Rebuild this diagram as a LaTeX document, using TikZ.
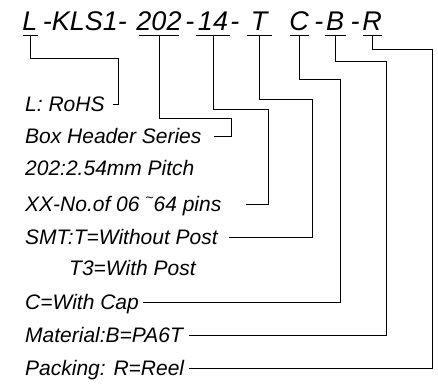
\documentclass[tikz,border=0pt]{standalone}
\usepackage{fontspec}
\setmainfont{Liberation Sans}
\usepackage{tikz}
\usetikzlibrary{positioning,calc}

\begin{document}
\begin{tikzpicture}[
      x=1pt,y=-1pt,
      font=\itshape,
      code/.style={anchor=south,inner xsep=0pt,inner ysep=4pt,text depth=0pt,font=\fontsize{27}{27}\selectfont\itshape},
      label/.style={anchor=west,inner sep=0pt,text height=15pt,text depth=0pt,font=\fontsize{21}{21}\selectfont\itshape},
      wire/.style={draw=black,line width=0.8pt}
    ]
    \useasboundingbox (0,0) rectangle (438,390);
    \node[code] (cL) at (30,35) {L};
    \node[code] (c202) at (159,35) {202};
    \node[code] (c14) at (213,35) {14};
    \node[code] (cT) at (259,35) {T};
    \node[code] (cC) at (299,35) {C};
    \node[code] (cB) at (335,35) {B};
    \node[code] (cR) at (372,35) {R};
    \node[code,anchor=south west] (sKLS) at ($(cL.south east)+(5,0)$) {-KLS1-};
    \node[code] (s1) at ($(c202.south east)!.5!(c14.south west)$) {-};
    \node[code,anchor=south west] (s2) at ($(c14.south east)+(2,0)$) {-};
    \node[code] (s3) at ($(cC.south east)!.5!(cB.south west)+(1.5,0)$) {-};
    \node[code] (s4) at ($(cB.south east)!.5!(cR.south west)+(2,0)$) {-};
    \foreach \c/\w in {cL/15,c202/40,c14/34,cT/25,cC/19,cB/21,cR/19}
      \draw[wire] ([xshift=-\w/2*1pt]\c.south) -- ([xshift=\w/2*1pt]\c.south);

    \node[label] (lRoHS) at (25,104) {L: RoHS};
    \node[label] (lBox) at (25,136) {Box Header Series};
    \node[label] (lPitch) at (25,168) {202:2.54mm Pitch};
    \node[label] (lPins) at (25,204) {XX-No.of 06 \raisebox{0.45em}{\fontsize{14}{14}\selectfont\textasciitilde}64 pins};
    \node[label] (lSMT) at (25,237) {SMT:T=Without Post};
    \node[label] (lPost) at (69,268) {T3=With Post};
    \node[label] (lCap) at (25,302) {C=With Cap};
    \node[label] (lMat) at (25,335) {Material:B=PA6T};
    \node[label] (lPack) at (25,368) {Packing: R=Reel};

    \coordinate (kL) at (118,58);
    \coordinate (k202) at (231,118);
    \coordinate (k14) at (268,109);
    \coordinate (kT) at (312,99);
    \coordinate (kC) at (340,79);
    \coordinate (kB) at (386,61);
    \coordinate (kR) at (432,49);

    \draw[wire] (cL.south) |- (kL) |- ([xshift=8pt]lRoHS.east);
    \draw[wire] (c202.south) |- (k202) |- ([xshift=12pt]lBox.east);
    \draw[wire] (c14.south) |- (k14) |- ([xshift=24pt]lPins.east);
    \draw[wire] (cT.south) |- (kT) |- ([xshift=11pt]lSMT.east);
    \draw[wire] (cC.south) |- (kC) |- ([xshift=4pt]lCap.east);
    \draw[wire] (cB.south) |- (kB) |- ([xshift=6pt]lMat.east);
    \draw[wire] (cR.south) |- (kR) |- ([xshift=5pt]lPack.east);
  \end{tikzpicture}
\end{document}
